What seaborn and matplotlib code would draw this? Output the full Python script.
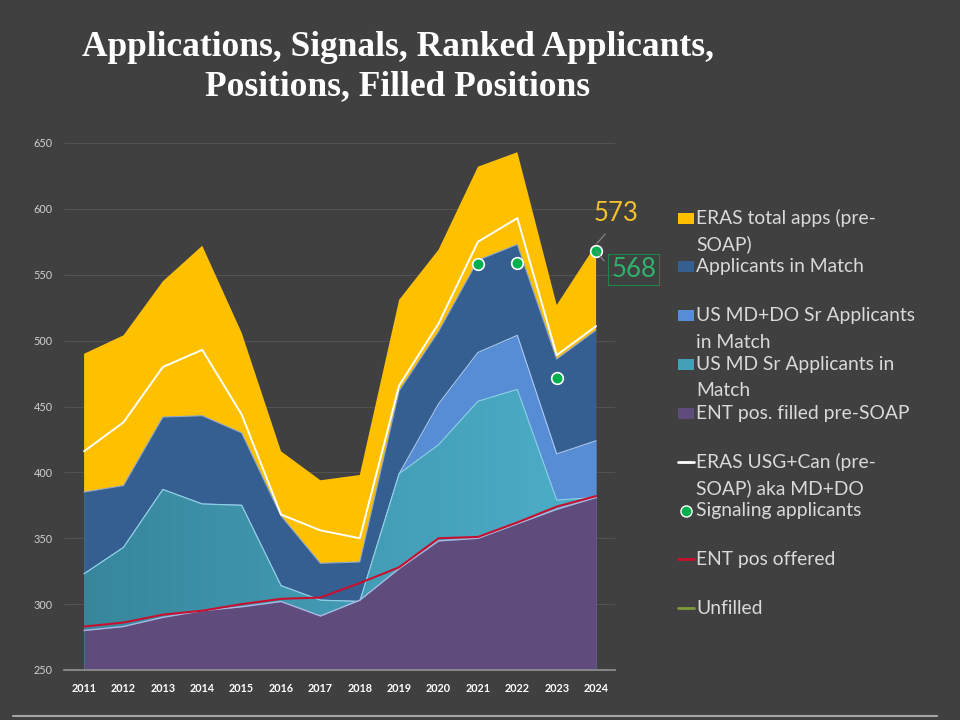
import numpy as np
import pandas as pd
import matplotlib
matplotlib.use("Agg")
import matplotlib.pyplot as plt
import seaborn as sns
from matplotlib.patches import Rectangle
from matplotlib.lines import Line2D
from matplotlib.colors import LinearSegmentedColormap

# ---------------- data ----------------
years = [2011, 2012, 2013, 2014, 2015, 2016, 2017, 2018, 2019, 2020, 2021, 2022, 2023, 2024]
eras_total = [490, 504, 545, 572, 506, 416, 394, 398, 531, 569, 632, 643, 527, 573]
eras_usg_can = [416, 438, 480, 493, 444, 368, 356, 350, 466, 513, 575, 593, 489, 511]
applicants_match = [385, 390, 442, 443, 430, 367, 331, 332, 462, 507, 561, 573, 486, 508]
md_do_sr = [323, 343, 387, 376, 375, 314, 303, 302, 399, 452, 491, 504, 414, 424]
md_sr = [323, 343, 387, 376, 375, 314, 303, 302, 399, 421, 454, 463, 379, 381]
filled_pre_soap = [280, 283, 290, 295, 298, 302, 291, 303, 327, 348, 350, 361, 372, 381]
pos_offered = [283, 286, 292, 295, 300, 304, 305, 316, 328, 350, 351, 362, 374, 382]
unfilled = [3, 3, 2, 0, 2, 2, 14, 13, 1, 2, 1, 1, 2, 1]
signal_years = [2021, 2022, 2023, 2024]
signaling = [558, 559, 472, 568]

title = "Applications, Signals, Ranked Applicants,\nPositions, Filled Positions"
legend_labels = [
    "ERAS total apps (pre-\nSOAP)",
    "Applicants in Match",
    "US MD+DO Sr Applicants\nin Match",
    "US MD Sr Applicants in\nMatch",
    "ENT pos. filled pre-SOAP",
    "ERAS USG+Can (pre-\nSOAP) aka MD+DO",
    "Signaling applicants",
    "ENT pos offered",
    "Unfilled",
]
yticks = [250, 300, 350, 400, 450, 500, 550, 600, 650]

# ---------------- style ----------------
BG = "#404040"
YELLOW = "#FFC000"
DBLUE = "#355F91"
LBLUE = "#578DD5"
TEAL_L, TEAL_R = "#37869C", "#4DAFC9"
PURPLE = "#5F4B7C"
RED = "#C8102E"
GREEN = "#00B050"
OLIVE = "#7F9A3A"
TXT = "#D9D9D9"

sns.set_theme(style="dark", rc={
    "figure.facecolor": BG, "axes.facecolor": BG, "savefig.facecolor": BG,
    "axes.edgecolor": BG, "grid.color": "#4F4F4F",
})
plt.rcParams["font.family"] = ["Lato", "DejaVu Sans"]

W, H = 960, 720
fig = plt.figure(figsize=(9.6, 7.2), dpi=100)
ax = fig.add_axes([64 / W, 1 - 670 / H, (615 - 64) / W, (670 - 143) / H])

def fx(px):
    return px / W

def fy(py):
    return 1 - py / H

# grid lines
for v in yticks[1:]:
    ax.axhline(v, color="#525252", lw=0.8, zorder=0)

# overlapping areas
ax.fill_between(years, eras_total, 0, color=YELLOW, lw=0, zorder=1)
ax.fill_between(years, applicants_match, 0, color=DBLUE, lw=0, zorder=2)
sns.lineplot(x=years, y=applicants_match, color="#8FA8CC", lw=0.8, ax=ax, zorder=2.1)
ax.fill_between(years, md_do_sr, 0, color=LBLUE, lw=0, zorder=3)
sns.lineplot(x=years, y=md_do_sr, color="#A9CBF2", lw=0.8, ax=ax, zorder=3.1)

teal_poly = ax.fill_between(years, md_sr, 0, facecolor="none", lw=0, zorder=4)
cmap = LinearSegmentedColormap.from_list("teal", [TEAL_L, TEAL_R])
grad = np.linspace(0, 1, 256).reshape(1, -1)
im = ax.imshow(grad, cmap=cmap, extent=[years[0], years[-1], 0, 700],
               aspect="auto", origin="lower", zorder=4)
im.set_clip_path(teal_poly.get_paths()[0], transform=ax.transData)
sns.lineplot(x=years, y=md_sr, color="#8FD0E6", lw=0.8, ax=ax, zorder=4.1)

ax.fill_between(years, filled_pre_soap, 0, color=PURPLE, lw=0, zorder=5)
sns.lineplot(x=years, y=filled_pre_soap, color="#AAB6E2", lw=1.0, ax=ax, zorder=5.1)

# lines
sns.lineplot(x=years, y=eras_usg_can, color="white", lw=1.4, ax=ax, zorder=6)
sns.lineplot(x=years, y=pos_offered, color=RED, lw=1.5, ax=ax, zorder=7)
sns.lineplot(x=years, y=unfilled, color=OLIVE, lw=1.5, ax=ax, zorder=7)
sns.scatterplot(x=signal_years, y=signaling, s=70, color=GREEN, edgecolor="white",
                linewidth=1.2, ax=ax, zorder=8)

ax.set_xlim(2010.49, 2024.48)
ax.set_ylim(250, 650)
ax.set_xticks(years)
ax.set_xticklabels([str(y) for y in years], fontsize=7.8, fontweight="bold", color="white")
ax.set_yticks(yticks)
ax.set_yticklabels([str(v) for v in yticks], fontsize=7.8, color="#D0D0D0")
ax.tick_params(axis="both", length=0)
ax.tick_params(axis="x", pad=9)
ax.tick_params(axis="y", pad=8)
ax.grid(False)
for s in ["top", "right", "left"]:
    ax.spines[s].set_visible(False)
ax.spines["bottom"].set_visible(True)
ax.spines["bottom"].set_color("#8C8C8C")
ax.spines["bottom"].set_linewidth(1.3)
ax.spines["bottom"].set_zorder(9)

# annotations
ax.annotate("573", xy=(2024, eras_total[-1]), xytext=(14.5, 22), textcoords="offset points",
            ha="center", va="center", fontsize=18.5, color="#F2C12E",
            arrowprops=dict(arrowstyle="-", color="#8A8A8A", lw=0.8, shrinkA=4, shrinkB=1,
                            relpos=(0.4, 0.0)),
            annotation_clip=False, zorder=10)
ax.annotate("568", xy=(2024, signaling[-1]), xytext=(27, -13.5), textcoords="offset points",
            ha="center", va="center", fontsize=18.5, color="#2DB36B",
            bbox=dict(boxstyle="square,pad=0.12", fc="none", ec="#1E8449", lw=0.8),
            arrowprops=dict(arrowstyle="-", color="#8A8A8A", lw=0.8, shrinkA=4, shrinkB=0,
                            relpos=(0.0, 0.5)),
            annotation_clip=False, zorder=10)

# title
fig.text(fx(398), fy(31), title, ha="center", va="top", fontsize=25.5,
         fontweight="bold", color="white", family=["Liberation Serif", "DejaVu Serif"],
         linespacing=1.25)

# legend (manual, evenly spaced like the original)
kinds = ["patch", "patch", "patch", "grad", "patch", "line", "marker", "line", "line"]
colors = [YELLOW, DBLUE, LBLUE, "#43A0B8", PURPLE, "white", GREEN, RED, OLIVE]
y0 = 218
step = 48.75
for i, (lab, kind, col) in enumerate(zip(legend_labels, kinds, colors)):
    yc = y0 + i * step
    if kind in ("patch", "grad"):
        fig.add_artist(Rectangle((fx(678), fy(yc + 5.5)), fx(16), 11 / H,
                                 transform=fig.transFigure, facecolor=col, edgecolor="none"))
    elif kind == "line":
        fig.add_artist(Line2D([fx(678), fx(694)], [fy(yc), fy(yc)], color=col, lw=2,
                              transform=fig.transFigure))
    else:
        fig.add_artist(Line2D([fx(686)], [fy(yc)], marker="o", markersize=8, color=col,
                              markeredgecolor="white", markeredgewidth=1.0,
                              transform=fig.transFigure))
    for j, line in enumerate(lab.split("\n")):
        fig.text(fx(696), fy(yc + j * 26.5), line, ha="left", va="center",
                 fontsize=13.9, color=TXT)

# bottom frame line of the slide
fig.add_artist(Line2D([fx(13), fx(937)], [fy(716), fy(716)], color="#A6A6A6", lw=1.5,
                      transform=fig.transFigure))

fig.savefig("out.png", dpi=100, facecolor=BG)
